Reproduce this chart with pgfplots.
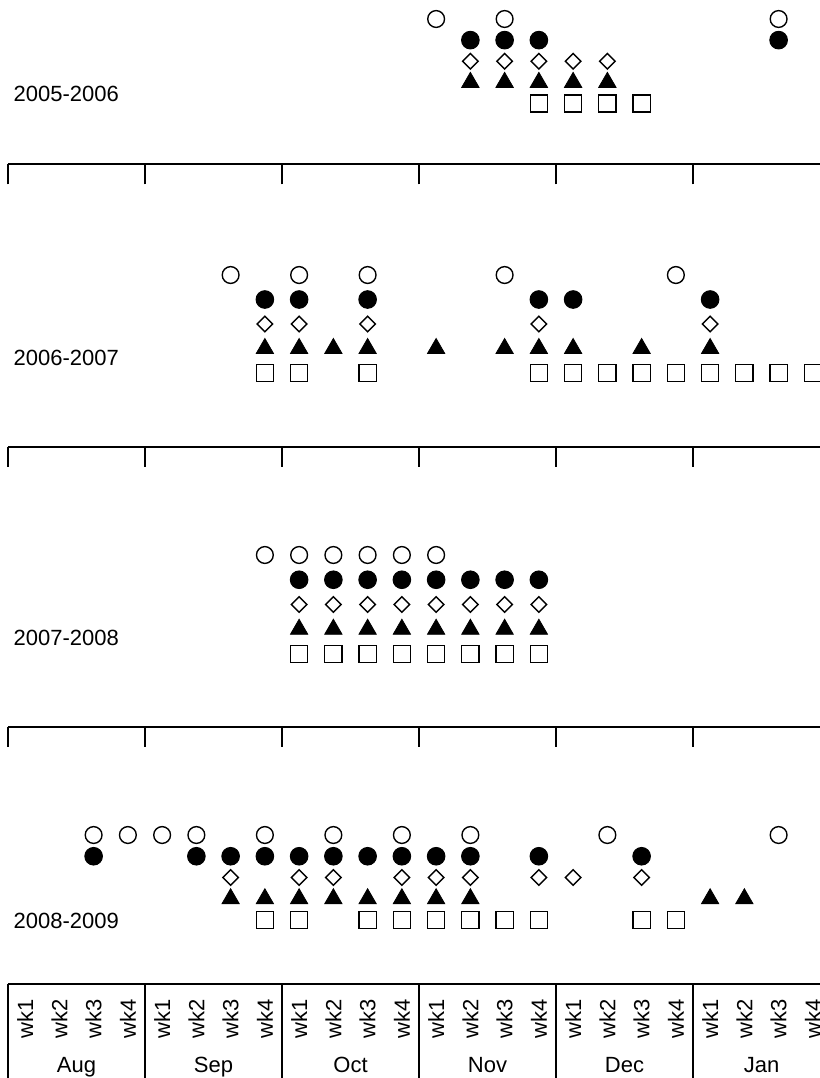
\documentclass[border=0pt]{standalone}
\usepackage{fontspec}
\setmainfont{Liberation Sans}
\usepackage{pgfplots}
\pgfplotsset{compat=1.18}
\pgfplotsset{
  panel/.style={scale only axis, width=411pt, xmin=-0.5, xmax=23.5, clip=false,
    axis x line*=bottom, axis y line=none,
    axis line style={-, line width=0.9pt, black},
    xtick={-0.5,3.5,...,23.5}, xticklabel={\relax}, ytick=\empty,
    tick align=outside, major tick length=10pt,
    every tick/.style={black, line width=0.9pt}},
  oc/.style={black, only marks, mark=o, mark size=4.2pt, mark options={line width=0.7pt}},
  fc/.style={black, only marks, mark=*, mark size=4.4pt, mark options={line width=0.5pt}},
  dm/.style={black, only marks, mark=square, mark size=2.75pt, mark options={rotate=45, line width=0.7pt}},
  tr/.style={black, only marks, mark=triangle*, mark size=5pt, mark options={line width=0.4pt}},
  sq/.style={black, only marks, mark=square, mark size=4.3pt, mark options={line width=0.7pt}},
}
\begin{document}
\fontsize{11pt}{13pt}\selectfont
\begin{tikzpicture}
\useasboundingbox (0,0) rectangle (410pt,-539pt);
\clip (0,0) rectangle (410pt,-539pt);

% ---------- 2005-2006 ----------
\begin{axis}[panel, height=82.15pt, ymin=-1.878, ymax=5.899, anchor=south west, at={(4pt,-82.15pt)}]
\addplot[oc] coordinates {(12,5) (14,5) (22,5)};
\addplot[fc] coordinates {(13,4) (14,4) (15,4) (22,4)};
\addplot[dm] coordinates {(13,3) (14,3) (15,3) (16,3) (17,3)};
\addplot[tr] coordinates {(13,2) (14,2) (15,2) (16,2) (17,2)};
\addplot[sq] coordinates {(15,1) (16,1) (17,1) (18,1)};
\end{axis}

% ---------- 2006-2007 ----------
\begin{axis}[panel, height=123.35pt, ymin=-2.008, ymax=8.061, anchor=south west, at={(4pt,-223.35pt)}]
\addplot[oc] coordinates {(6,5) (8,5) (10,5) (14,5) (19,5)};
\addplot[fc] coordinates {(7,4) (8,4) (10,4) (15,4) (16,4) (20,4)};
\addplot[dm] coordinates {(7,3) (8,3) (10,3) (15,3) (20,3)};
\addplot[tr] coordinates {(7,2) (8,2) (9,2) (10,2) (12,2) (14,2) (15,2) (16,2) (18,2) (20,2)};
\addplot[sq] coordinates {(7,1) (8,1) (10,1) (15,1) (16,1) (17,1) (18,1) (19,1) (20,1) (21,1) (22,1) (23,1)};
\end{axis}

% ---------- 2007-2008 ----------
\begin{axis}[panel, height=123.35pt, ymin=-1.937, ymax=8.030, anchor=south west, at={(4pt,-363.35pt)}]
\addplot[oc] coordinates {(7,5) (8,5) (9,5) (10,5) (11,5) (12,5)};
\addplot[fc] coordinates {(8,4) (9,4) (10,4) (11,4) (12,4) (13,4) (14,4) (15,4)};
\addplot[dm] coordinates {(8,3) (9,3) (10,3) (11,3) (12,3) (13,3) (14,3) (15,3)};
\addplot[tr] coordinates {(8,2) (9,2) (10,2) (11,2) (12,2) (13,2) (14,2) (15,2)};
\addplot[sq] coordinates {(8,1) (9,1) (10,1) (11,1) (12,1) (13,1) (14,1) (15,1)};
\end{axis}

% ---------- 2008-2009 ----------
\begin{axis}[panel, height=112pt, ymin=-2.012, ymax=8.529, anchor=south west, at={(4pt,-492pt)}, xtick=\empty]
\addplot[oc] coordinates {(2,5) (3,5) (4,5) (5,5) (7,5) (9,5) (11,5) (13,5) (17,5) (22,5)};
\addplot[fc] coordinates {(2,4) (5,4) (6,4) (7,4) (8,4) (9,4) (10,4) (11,4) (12,4) (13,4) (15,4) (18,4)};
\addplot[dm] coordinates {(6,3) (8,3) (9,3) (11,3) (12,3) (13,3) (15,3) (16,3) (18,3)};
\addplot[tr] coordinates {(6,2) (7,2) (8,2) (9,2) (10,2) (11,2) (12,2) (13,2) (20,2) (21,2)};
\addplot[sq] coordinates {(7,1) (8,1) (10,1) (11,1) (12,1) (13,1) (14,1) (15,1) (18,1) (19,1)};
\end{axis}

% season labels
\node[anchor=west, inner sep=0pt] at (6.65pt,-46.9pt) {2005-2006};
\node[anchor=west, inner sep=0pt] at (6.65pt,-179.15pt) {2006-2007};
\node[anchor=west, inner sep=0pt] at (6.65pt,-319.15pt) {2007-2008};
\node[anchor=west, inner sep=0pt] at (6.65pt,-460.35pt) {2008-2009};

% bottom calendar box
\foreach \m in {0,...,6} {
  \draw[line width=0.9pt] ({(4+68.5*\m)*1pt},-492pt) -- ({(4+68.5*\m)*1pt},-545pt);
}
\foreach \m/\name in {0/Aug,1/Sep,2/Oct,3/Nov,4/Dec,5/Jan} {
  \foreach \w in {1,...,4} {
    \node[rotate=90, inner sep=0pt] at ({(4+(4*\m+\w-0.5)*17.125)*1pt},-509.35pt) {wk\w};
  }
  \node[anchor=base, inner sep=0pt] at ({(4+(4*\m+2)*17.125)*1pt},-536pt) {\name};
}
\end{tikzpicture}
\end{document}
